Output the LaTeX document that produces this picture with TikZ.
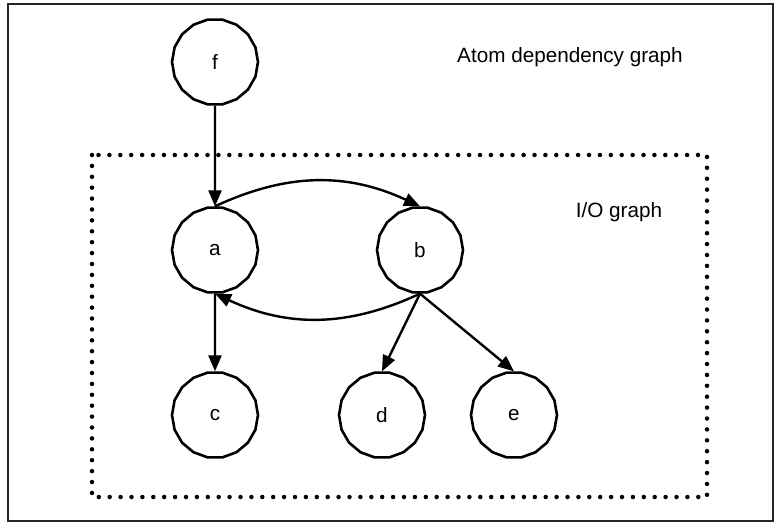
\documentclass[tikz,border=0pt]{standalone}
\usepackage{fontspec}
\setmainfont{Liberation Sans}
\usetikzlibrary{positioning, arrows.meta, shapes.geometric}

\tikzset{
	atom/.style={draw, line width=2.6pt, regular polygon, regular polygon sides=18,
		minimum size=86pt, inner sep=0pt, font=\fontsize{20.7}{24}\selectfont},
	dep/.style={line width=2.4pt, -{Triangle[length=16pt,width=13pt]}},
	caption/.style={font=\fontsize{20.7}{24}\selectfont}
}

\begin{document}
\begin{tikzpicture}[x=1pt, y=-1pt, on grid, every edge/.style={draw, dep}]
	\useasboundingbox (0,0) rectangle (780,524);
	\draw[line width=2.2pt, black!85] (8,4) rectangle (773,521);
	\draw[line width=4.5pt, line cap=round, dash pattern=on 0pt off 10.9pt] (92,155) rectangle (707,497);

	\node[atom] (f) at (215,62) {f};
	\node[atom] (a) [below=188pt of f] {a};
	\node[atom] (b) [right=205pt of a] {b};
	\node[atom] (c) [below=165pt of a] {c};
	\node[atom] (d) [right=167pt of c] {d};
	\node[atom] (e) [right=132pt of d] {e};

	\node[caption] (adg) at (570,57) {Atom dependency graph};
	\node[caption] (iog) at (619,212) {I/O graph};

	\path
		(f.south) edge (a.north)
		(a.north) edge [bend left=25] (b.north)
		(b.south) edge [bend left=25] (a.south)
		(a.south) edge (c.north)
		(b.south) edge (d.north)
		(b.south) edge (e.north)
	;
\end{tikzpicture}
\end{document}
